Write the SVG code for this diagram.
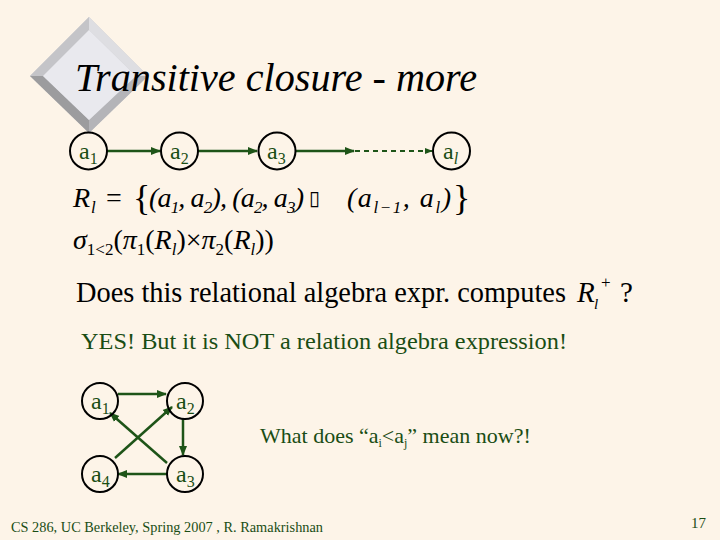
<svg xmlns="http://www.w3.org/2000/svg" width="720" height="540" viewBox="0 0 720 540">
<defs>
<style>
.bg{fill:#fdf4e8}
.node{fill:none;stroke:#000;stroke-width:2}
.edge{stroke:#1e5418;stroke-width:2.5;fill:none}
.dash{stroke-dasharray:5 4;stroke-width:2}
.serif{font-family:"Liberation Serif",serif}
.lbl{font-size:24px;fill:#1a4d14}
.green{fill:#1a4d14}
</style>
<marker id="ah" viewBox="0 0 10 10" refX="9" refY="5" markerWidth="4" markerHeight="4" orient="auto" markerUnits="strokeWidth">
<path d="M0,1 L10,5 L0,9 Z" fill="#1e5418"/>
</marker>
</defs>
<rect class="bg" x="0" y="0" width="720" height="540"/>

<g id="logo">
<polygon points="89,17 148,76 89,133 30,76" fill="#c8c8cc"/>
<polygon points="89,17 148,76 136,76 89,30" fill="#dedee2"/>
<polygon points="89,17 89,30 43,76 30,76" fill="#c4c4c8"/>
<polygon points="30,76 43,76 89,120 89,133" fill="#9c9c9e"/>
<polygon points="148,76 136,76 89,120 89,133" fill="#b4b4b8"/>
<polygon points="89,30 136,76 89,120 43,76" fill="#e9e9ee"/>
</g>

<g id="connectors">
<line class="edge" x1="107" y1="151" x2="160" y2="151" marker-end="url(#ah)"/>
<line class="edge" x1="198" y1="151" x2="257" y2="151" marker-end="url(#ah)"/>
<line class="edge" x1="295" y1="151" x2="354" y2="151" marker-end="url(#ah)"/>
<line class="edge dash" x1="355" y1="151" x2="432" y2="151" marker-end="url(#ah)"/>
<line class="edge" x1="118" y1="394" x2="166" y2="394" marker-end="url(#ah)"/>
<line class="edge" x1="183" y1="418" x2="183" y2="455" marker-end="url(#ah)"/>
<line class="edge" x1="167" y1="474" x2="118" y2="474" marker-end="url(#ah)"/>
<line class="edge" x1="115" y1="458" x2="172" y2="407" marker-end="url(#ah)"/>
<line class="edge" x1="167" y1="463" x2="110" y2="413" marker-end="url(#ah)"/>
</g>

<text id="title" class="serif" x="75" y="91" font-family="Liberation Serif" font-style="italic" font-size="39" textLength="402" lengthAdjust="spacingAndGlyphs">Transitive closure - more</text>

<g id="n_a1"><circle class="node" cx="88.5" cy="151" r="18.5"/><text class="serif lbl" x="79" y="159">a<tspan font-size="16" dy="5">1</tspan></text></g>
<g id="n_a2"><circle class="node" cx="179.5" cy="151" r="18.5"/><text class="serif lbl" x="170" y="159">a<tspan font-size="16" dy="5">2</tspan></text></g>
<g id="n_a3"><circle class="node" cx="277" cy="151" r="18.5"/><text class="serif lbl" x="267" y="159">a<tspan font-size="16" dy="5">3</tspan></text></g>
<g id="n_al"><circle class="node" cx="451.5" cy="151" r="18.5"/><text class="serif lbl" x="443" y="159">a<tspan font-size="16" font-style="italic" dy="5">l</tspan></text></g>

<g id="formula_R" class="serif" font-size="28" fill="#000">
<text class="serif" x="73" y="207" font-style="italic">R</text>
<text class="serif" x="91" y="213" font-style="italic" font-size="17">l</text>
<text class="serif" x="106" y="207">=</text>
<text class="serif" x="133" y="210" font-size="36">{</text>
<text class="serif" x="149" y="207" font-style="italic" textLength="155" lengthAdjust="spacing">(a<tspan font-size="17" dy="6">1</tspan><tspan dy="-6">, a</tspan><tspan font-size="17" dy="6">2</tspan><tspan dy="-6">), (a</tspan><tspan font-size="17" dy="6">2</tspan><tspan dy="-6">, a</tspan><tspan font-size="17" dy="6">3</tspan><tspan dy="-6">)</tspan></text>
<text x="309" y="205" font-family="DejaVu Sans, sans-serif" font-size="20">▯</text>
<text class="serif" x="347" y="207" font-style="italic" textLength="104" lengthAdjust="spacing">(a<tspan font-size="17" dy="6">l−1</tspan><tspan dy="-6">, a</tspan><tspan font-size="17" dy="6">l</tspan><tspan dy="-6">)</tspan></text>
<text class="serif" x="453" y="210" font-size="36">}</text>
</g>

<text id="formula_sigma" class="serif" x="73" y="249" font-style="italic" font-size="28" fill="#000">σ<tspan font-size="17" font-style="normal" dy="6">1&lt;2</tspan><tspan font-style="normal" dy="-6">(</tspan>π<tspan font-size="17" font-style="normal" dy="6">1</tspan><tspan font-style="normal" dy="-6">(</tspan>R<tspan font-size="17" dy="6">l</tspan><tspan font-style="normal" dy="-6">)×</tspan>π<tspan font-size="17" font-style="normal" dy="6">2</tspan><tspan font-style="normal" dy="-6">(</tspan>R<tspan font-size="17" dy="6">l</tspan><tspan font-style="normal" dy="-6">))</tspan></text>

<g id="question" class="serif" fill="#000">
<text class="serif" x="76" y="302" font-size="29" textLength="490" lengthAdjust="spacingAndGlyphs">Does this relational algebra expr. computes</text>
<text class="serif" x="577" y="302" font-style="italic" font-size="29">R</text>
<text class="serif" x="594" y="309" font-style="italic" font-size="15">l</text>
<text class="serif" x="601" y="288" font-size="17">+</text>
<text class="serif" x="620" y="302" font-size="29">?</text>
</g>

<text id="answer" class="serif green" x="81" y="349" font-size="24" textLength="486" lengthAdjust="spacingAndGlyphs">YES! But it is NOT a relation algebra expression!</text>

<g id="m_a1"><circle class="node" cx="100" cy="401" r="18"/><text class="serif lbl" x="91" y="409">a<tspan font-size="16" dy="5">1</tspan></text></g>
<g id="m_a2"><circle class="node" cx="185" cy="401" r="18"/><text class="serif lbl" x="176" y="409">a<tspan font-size="16" dy="5">2</tspan></text></g>
<g id="m_a3"><circle class="node" cx="185" cy="474" r="18"/><text class="serif lbl" x="176" y="482">a<tspan font-size="16" dy="5">3</tspan></text></g>
<g id="m_a4"><circle class="node" cx="100" cy="474" r="18"/><text class="serif lbl" x="91" y="482">a<tspan font-size="16" dy="5">4</tspan></text></g>

<text id="question2" class="serif green" x="260" y="443" font-size="22">What does “a<tspan font-size="12" dy="4">i</tspan><tspan dy="-4">&lt;a</tspan><tspan font-size="12" dy="4">j</tspan><tspan dy="-4">” mean now?!</tspan></text>

<g id="footer" class="serif green" font-size="15">
<text class="serif" x="11" y="532" textLength="312" lengthAdjust="spacingAndGlyphs">CS 286, UC Berkeley, Spring 2007  , R. Ramakrishnan</text>
<text class="serif" x="691" y="528">17</text>
</g>
</svg>
